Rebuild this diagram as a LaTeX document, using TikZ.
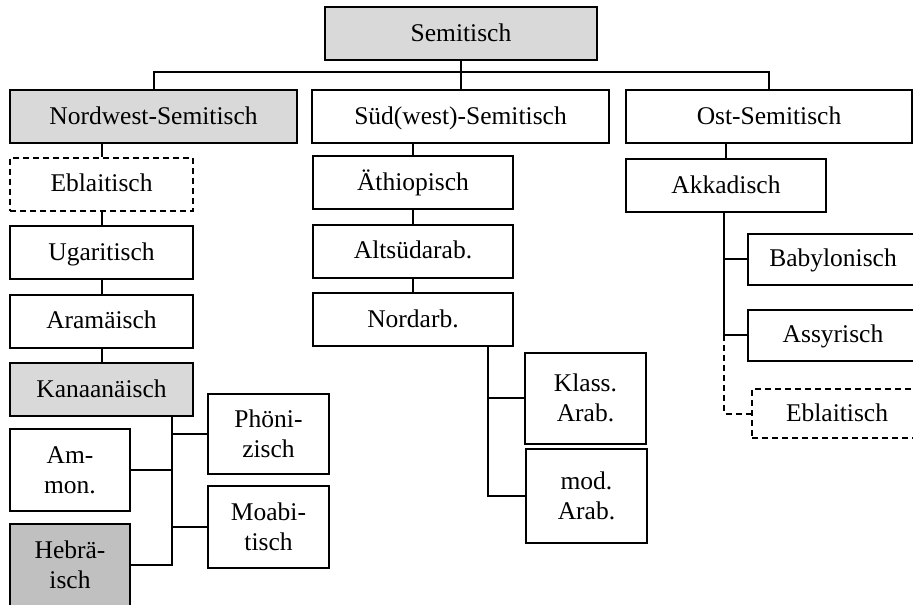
\documentclass[tikz,border=0pt]{standalone}
\usepackage{fontspec}
\setmainfont{Liberation Serif}
\usepackage{xcolor}
\usetikzlibrary{positioning}

\definecolor{groupgrey}{HTML}{D9D9D9}
\definecolor{hebgrey}{HTML}{C0C0C0}

\begin{document}
\begin{tikzpicture}[x=1pt, y=-1pt, line width=2pt, node distance=13.5pt]
        \tikzset{
                basic/.style  = {draw, rectangle, align=center, inner sep=0pt,
                                font=\fontsize{25.5}{30}\selectfont, minimum height=53pt},
                group/.style  = {basic, fill=groupgrey},
                lang/.style   = {basic, fill=white},
                unsure/.style = {basic, dash pattern=on 6pt off 4pt},
                oneline/.style  = {text height=19pt, text depth=4pt},
                leftcol/.style  = {oneline, minimum width=183pt},
                midcol/.style   = {oneline, minimum width=200pt},
                small/.style  = {minimum width=121pt, minimum height=82pt},
                rightcol/.style = {oneline, minimum width=170pt, minimum height=51pt}
        }
        \useasboundingbox (0,0) rectangle (913,605);
        \clip (0,0) rectangle (913,605);

        % root and the three branches
        \node[group, oneline, minimum width=272pt] (sem) at (461,33.5) {Semitisch};
        \node[group, oneline, minimum width=287pt] (nws) at (153.5,116.5) {Nordwest-Semitisch};
        \node[lang, oneline, minimum width=297pt] (sws) at (460.5,116.5) {Süd(west)-Semitisch};
        \node[lang, oneline, minimum width=286pt] (ost) at (769,116.5) {Ost-Semitisch};

        % Nordwest-Semitisch, stacked
        \node[unsure, leftcol] (ebl) at (101.5,184) {Eblaitisch};
        \node[lang, leftcol, below=of ebl] (uga) {Ugaritisch};
        \node[lang, leftcol, below=of uga] (ara) {Aramäisch};
        \node[group, leftcol, below=of ara] (kan) {Kanaanäisch};

        % Kanaanäisch and its children
        \node[lang, small, minimum width=120pt] (amm) at (70,470) {Am-\\mon.};
        \node[basic, small, minimum width=120pt, fill=hebgrey] (heb) at (70,565) {Hebrä-\\isch};
        \node[lang, small, minimum height=80pt] (phoe) at (268.5,434) {Phöni-\\zisch};
        \node[lang, small] (moab) at (268.5,527) {Moabi-\\tisch};

        % Süd(west)-Semitisch, stacked
        \node[lang, midcol] (ath) at (413,182.5) {Äthiopisch};
        \node[lang, midcol, below=of ath] (alt) {Altsüdarab.};
        \node[lang, midcol, below=of alt] (nord) {Nordarb.};
        \node[lang, small, minimum height=91pt] (kla) at (585.5,398) {Klass.\\Arab.};
        \node[lang, small, minimum height=94pt] (mod) at (586.5,496) {mod.\\Arab.};

        % Ost-Semitisch
        \node[lang, midcol] (akk) at (726,185.5) {Akkadisch};
        \node[lang, rightcol] (bab) at (833,259) {Babylonisch};
        \node[lang, rightcol] (ass) at (833,335) {Assyrisch};
        \node[unsure, rightcol, minimum height=49pt] (ebl2) at (837,413.5) {Eblaitisch};

        % lines from the root to the three branches
        \coordinate (bus) at (0,72);
        \draw (sem.south) -- (sem.south |- sws.north);
        \draw (nws.north) |- (bus -| ost.north) -- (ost.north);

        % straight lines down the stacks
        \draw (ebl.north |- nws.south) -- (ebl.north);
        \draw (ath.north |- sws.south) -- (ath.north);
        \draw (akk.north |- ost.south) -- (akk.north);
        \foreach \upper/\lower in {ebl/uga, uga/ara, ara/kan, ath/alt, alt/nord} {
                \draw (\upper.south) -- (\lower.north);
        }

        % forks
        \coordinate (kfork) at (172,0);
        \coordinate (nfork) at (488,0);
        \coordinate (afork) at (724,0);

        \draw (kan.south -| kfork) |- (heb.east);
        \foreach \child in {amm, heb} {
                \draw (kfork |- \child.east) -- (\child.east);
        }
        \foreach \child in {phoe, moab} {
                \draw (kfork |- \child.west) -- (\child.west);
        }

        \draw (nord.south -| nfork) |- (mod.west);
        \draw (nfork |- kla.west) -- (kla.west);

        \draw (akk.south -| afork) |- (ass.west);
        \draw (afork |- bab.west) -- (bab.west);
        \draw[dash pattern=on 6pt off 4pt] (afork |- ass.west) |- (ebl2.west);
\end{tikzpicture}
\end{document}
